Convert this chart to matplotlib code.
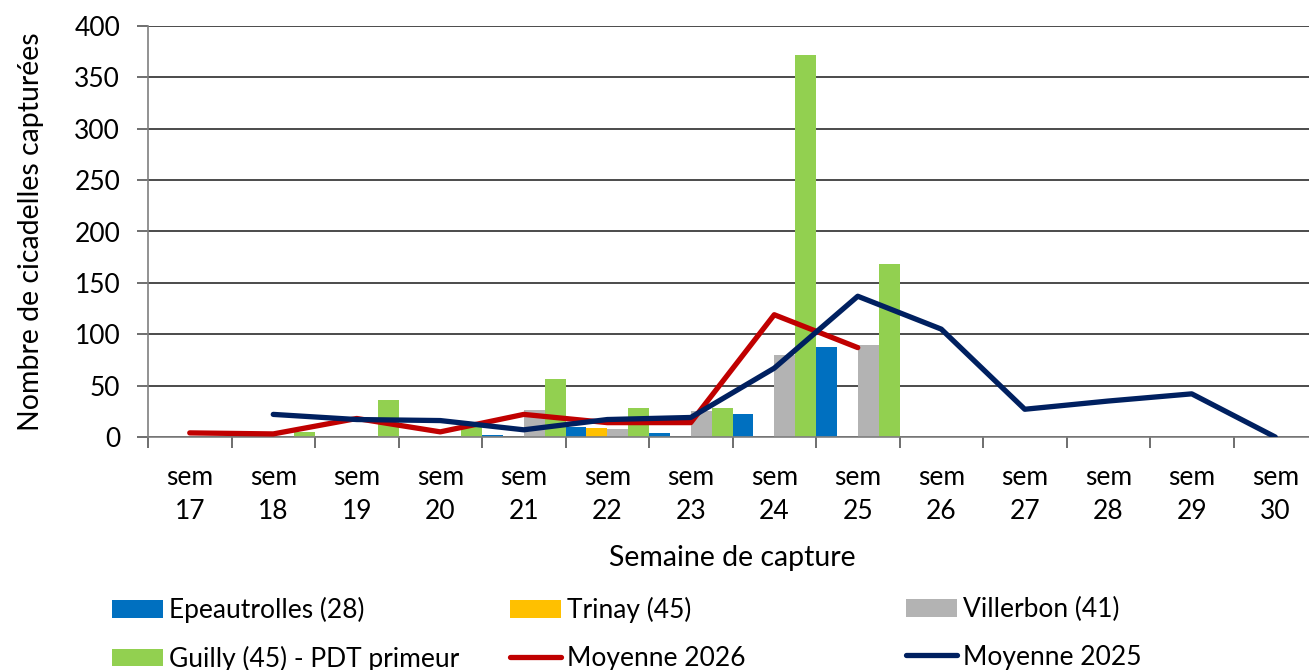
import numpy as np
import matplotlib
matplotlib.use("Agg")
import matplotlib.pyplot as plt
from matplotlib.patches import Patch
from matplotlib.lines import Line2D

plt.rcParams['font.family'] = ['Lato', 'DejaVu Sans']

semaines = ["sem\n17", "sem\n18", "sem\n19", "sem\n20", "sem\n21", "sem\n22", "sem\n23",
            "sem\n24", "sem\n25", "sem\n26", "sem\n27", "sem\n28", "sem\n29", "sem\n30"]

epeautrolles = [0, 0, 0, 0, 2, 10, 4, 22, 88, 0, 0, 0, 0, 0]
trinay = [0, 0, 0, 0, 0, 9, 0, 0, 0, 0, 0, 0, 0, 0]
villerbon = [0, 0, 0, 0, 26, 8, 25, 80, 90, 0, 0, 0, 0, 0]
guilly = [0, 5, 36, 10, 56, 28, 28, 372, 168, 0, 0, 0, 0, 0]

moy_2026 = [4, 3, 18, 5, 22, 14, 14, 119, 87, None, None, None, None, None]
moy_2025 = [None, 22, 17, 16, 7, 17, 19, 67, 137, 105, 27, 35, 42, 0]

bar_series = [
    ("Epeautrolles (28)", epeautrolles, "#0070c0"),
    ("Trinay (45)", trinay, "#ffc000"),
    ("Villerbon (41)", villerbon, "#b3b3b3"),
    ("Guilly (45) - PDT primeur", guilly, "#92d050"),
]

fig = plt.figure(figsize=(13.09, 6.70), dpi=100)
ax = fig.add_axes([148 / 1309, 1 - 437 / 670, 1169 / 1309, 411 / 670])

x = np.arange(len(semaines))
w = 0.25
for k, (name, vals, col) in enumerate(bar_series):
    ax.bar(x + (k - 1.5) * w, vals, width=w, color=col, zorder=2)

def to_arr(v):
    return np.array([np.nan if a is None else a for a in v], dtype=float)

ax.plot(x, to_arr(moy_2026), color="#c00000", lw=3.8, solid_capstyle="round",
        solid_joinstyle="round", zorder=3)
ax.plot(x, to_arr(moy_2025), color="#002060", lw=3.8, solid_capstyle="round",
        solid_joinstyle="round", zorder=4)

ax.set_xlim(-0.5, len(semaines) - 0.5)
ax.set_ylim(0, 400)
ax.set_yticks(range(0, 401, 50))
ax.yaxis.grid(True, color="#1a1a1a", lw=1.1, zorder=0)
ax.set_axisbelow(True)

ax.set_xticks(x)
ax.set_xticklabels(semaines, fontsize=19, linespacing=1.45)
ax.set_xticks(np.arange(-0.5, len(semaines), 1), minor=True)
ax.tick_params(axis="x", which="major", length=0, pad=20)
ax.tick_params(axis="x", which="minor", length=8, color="#555555", width=1.2)
ax.tick_params(axis="y", length=8, color="#555555", width=1.2, labelsize=19, pad=12)

for s in ["top", "right"]:
    ax.spines[s].set_visible(False)
ax.spines["left"].set_color("#7f7f7f")
ax.spines["bottom"].set_color("#7f7f7f")
ax.spines["left"].set_linewidth(1.2)
ax.spines["bottom"].set_linewidth(1.2)

ax.set_ylabel("Nombre de cicadelles capturées", fontsize=20.5, labelpad=22)
ax.set_xlabel("Semaine de capture", fontsize=20.5, labelpad=15)

h_bar = [Patch(facecolor=c, edgecolor="none") for _, _, c in bar_series]
h_26 = Line2D([], [], color="#c00000", lw=3.8, solid_capstyle="round")
h_25 = Line2D([], [], color="#002060", lw=3.8, solid_capstyle="round")

columns = [
    ([h_bar[0], h_bar[3]], [bar_series[0][0], bar_series[3][0]], 112),
    ([h_bar[1], h_26], [bar_series[1][0], "Moyenne 2026"], 510),
    ([h_bar[2], h_25], [bar_series[2][0], "Moyenne 2025"], 906),
]
for handles, labels, xpx in columns:
    leg = fig.legend(handles, labels, loc="upper left",
                     bbox_to_anchor=(xpx / 1309, 1 - 597 / 670),
                     frameon=False, fontsize=19, handlelength=1.95, handleheight=0.65,
                     handletextpad=0.2, labelspacing=0.85, borderaxespad=0,
                     borderpad=0)

fig.savefig("out.png", dpi=100)
